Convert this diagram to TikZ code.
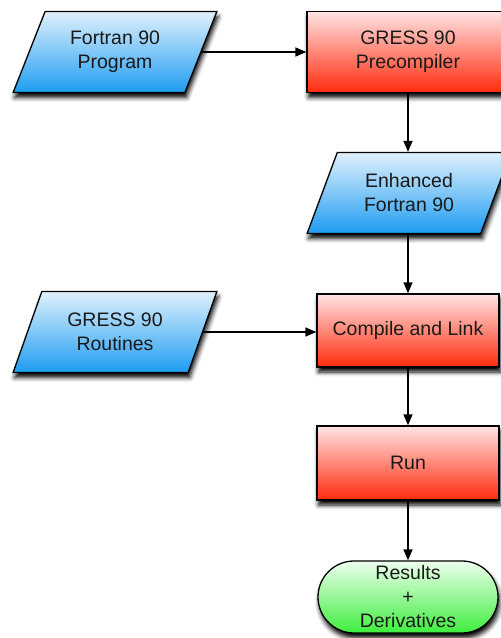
\documentclass[tikz,border=0pt]{standalone}
\usepackage{fontspec}
\setmainfont{Liberation Sans}
\usetikzlibrary{shapes.geometric,shapes.misc,arrows.meta,shadows.blur}
\definecolor{datatop}{RGB}{224,241,253}
\definecolor{databot}{RGB}{30,156,242}
\definecolor{proctop}{RGB}{255,228,228}
\definecolor{procbot}{RGB}{255,42,12}
\definecolor{termtop}{RGB}{238,255,238}
\definecolor{termbot}{RGB}{62,238,62}
\begin{document}
\begin{tikzpicture}[x=1pt,y=-1pt,
  every node/.style={font=\fontsize{19.5}{24}\selectfont, text=black!90,
    align=center, draw=black, line width=1.3pt, inner sep=0pt,
    blur shadow={shadow xshift=1.5pt, shadow yshift=-5pt, shadow blur radius=4.5pt, shadow opacity=100}},
  data/.style={trapezium, trapezium left angle=63.7, trapezium right angle=116.3,
    trapezium stretches=true, minimum width=204pt, minimum height=81pt,
    top color=datatop, bottom color=databot},
  proc/.style={rectangle, minimum width=182pt, minimum height=73pt,
    top color=proctop, bottom color=procbot},
  term/.style={rounded rectangle, minimum width=180pt, minimum height=72pt,
    top color=termtop, bottom color=termbot},
  flow/.style={-{Triangle[length=11pt,width=9pt]}, line width=1.3pt}
]
    \useasboundingbox (0,0) rectangle (501,638);

    \node[data] (prog) at (115,52) {Fortran 90\\Program};
    \node[proc, minimum width=202pt, minimum height=81pt] (precomp) at (408,52) {GRESS 90\\Precompiler};
    \node[data] (enh) at (409,193) {Enhanced\\Fortran 90};
    \node[data] (routines) at (115,332) {GRESS 90\\Routines};
    \node[proc] (compile) at (408,330.5) {Compile and Link};
    \node[proc, minimum height=74pt] (run) at (408,463) {Run};
    \node[term] (res) at (408,597) {Results\\+\\Derivatives};

    \draw[flow] (prog.east) -- (prog.east -| precomp.west);
    \draw[flow] (precomp.south) -- (precomp.south |- enh.north);
    \draw[flow] (enh.south) -- (enh.south -| compile.north) -- (compile.north);
    \draw[flow] (routines.east) -- (routines.east -| compile.west);
    \draw[flow] (compile.south) -- (run.north);
    \draw[flow] (run.south) -- (res.north);
\end{tikzpicture}
\end{document}
